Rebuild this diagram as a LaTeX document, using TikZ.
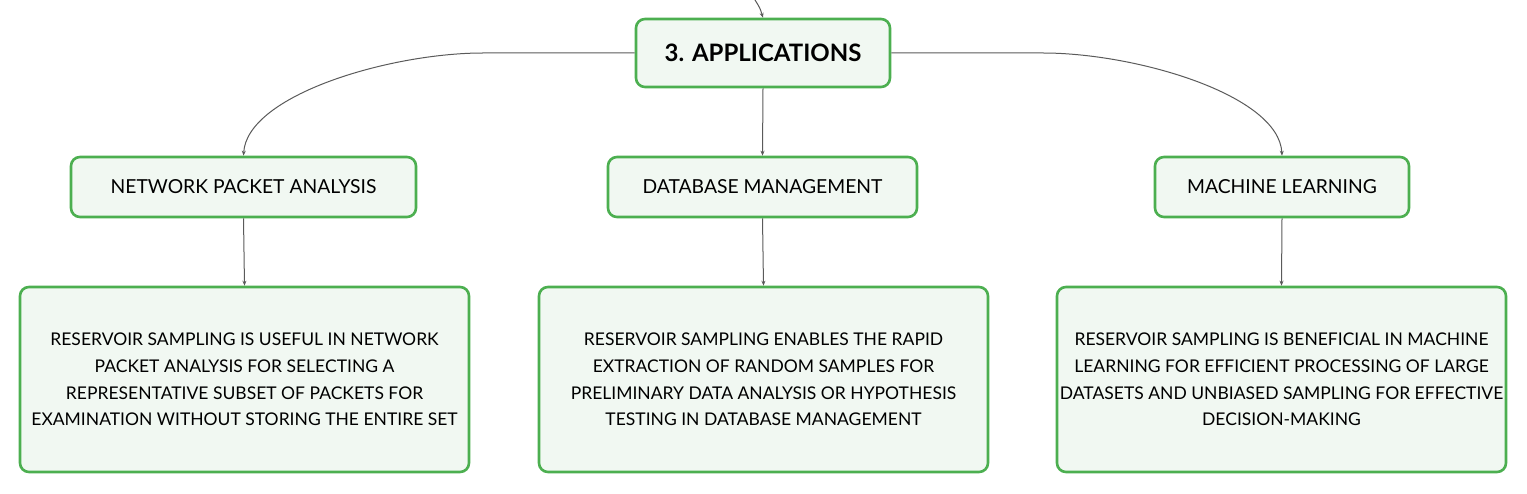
\documentclass[tikz,border=0pt]{standalone}
\usepackage{fontspec}
\setmainfont{Lato}
\usetikzlibrary{arrows.meta}
\definecolor{boxgreen}{RGB}{76,175,80}
\definecolor{boxfill}{RGB}{241,248,242}
\definecolor{linegray}{RGB}{90,90,90}
\tikzset{
  basebox/.style={draw=boxgreen, line width=2.6pt, fill=boxfill, rounded corners=9pt, align=center, inner sep=0pt},
  rootbox/.style={basebox, minimum width=254pt, minimum height=68pt, font=\fontsize{24}{27}\selectfont\bfseries},
  topicbox/.style={basebox, minimum height=60pt, font=\fontsize{19.3}{22}\selectfont},
  detailbox/.style={basebox, minimum width=449pt, minimum height=185pt, font=\fontsize{17.5}{26.7}\selectfont},
  conn/.style={draw=linegray, line width=1pt, -{Stealth[length=5pt,width=4pt]}}
}
\begin{document}
\begin{tikzpicture}[x=1pt,y=-1pt]
\useasboundingbox (0,0) rectangle (1527,494);
\coordinate (top) at (755,0);
\node[rootbox] (root) at (763,53) {3. APPLICATIONS};
\node[topicbox, minimum width=345pt] (npa) at (243.5,187) {NETWORK PACKET ANALYSIS};
\node[topicbox, minimum width=309pt] (db) at (762.5,187) {DATABASE MANAGEMENT};
\node[topicbox, minimum width=254pt] (ml) at (1282,187) {MACHINE LEARNING};
\node[detailbox] (d1) at (244.5,379.5) {RESERVOIR SAMPLING IS USEFUL IN NETWORK\\PACKET ANALYSIS FOR SELECTING A\\REPRESENTATIVE SUBSET OF PACKETS FOR\\EXAMINATION WITHOUT STORING THE ENTIRE SET};
\node[detailbox] (d2) at (763.5,379.5) {RESERVOIR SAMPLING ENABLES THE RAPID\\EXTRACTION OF RANDOM SAMPLES FOR\\PRELIMINARY DATA ANALYSIS OR HYPOTHESIS\\TESTING IN DATABASE MANAGEMENT};
\node[detailbox] (d3) at (1281.5,379.5) {RESERVOIR SAMPLING IS BENEFICIAL IN MACHINE\\LEARNING FOR EFFICIENT PROCESSING OF LARGE\\DATASETS AND UNBIASED SAMPLING FOR EFFECTIVE\\DECISION-MAKING};
\coordinate (lbend) at (483,53);
\coordinate (rbend) at (1043,53);
\draw[conn] (top) .. controls (760,8) .. (root.north);
\draw[conn] (root.west) -- (lbend) .. controls (390,53) and (247,95) .. (npa.north);
\draw[conn] (root.east) -- (rbend) .. controls (1136,53) and (1279,95) .. (ml.north);
\draw[conn] (root.south) -- (db.north);
\draw[conn] (npa.south) -- (d1.north);
\draw[conn] (db.south) -- (d2.north);
\draw[conn] (ml.south) -- (d3.north);
\end{tikzpicture}
\end{document}
